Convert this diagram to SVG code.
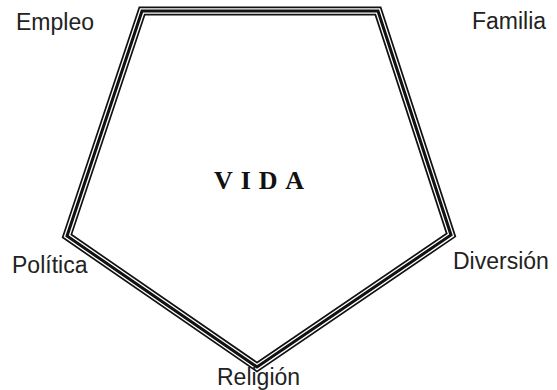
<svg xmlns="http://www.w3.org/2000/svg" width="557" height="390" viewBox="0 0 557 390">
<style>
.lbl{font-family:"Liberation Sans",Arial,sans-serif;font-size:23px;fill:#222}
.title{font-family:"Liberation Serif","Times New Roman",serif;font-size:26px;font-weight:bold;letter-spacing:7.9px;fill:#111}
.edge{fill:none;stroke-linejoin:miter;stroke-miterlimit:10}
</style>
<rect width="557" height="390" fill="#fff"/>
<g id="connectors">
<polygon class="edge" points="142,11 378,11 451,235 257,367 67,236" stroke="#111" stroke-width="9"/>
<polygon class="edge" points="142,11 378,11 451,235 257,367 67,236" stroke="#fff" stroke-width="5.6"/>
<polygon class="edge" points="142,11 378,11 451,235 257,367 67,236" stroke="#111" stroke-width="3"/>
</g>
<g id="vida"><text class="title" x="214" y="189">VIDA</text></g>
<g id="empleo"><text class="lbl" x="16" y="30">Empleo</text></g>
<g id="familia"><text class="lbl" x="472" y="29">Familia</text></g>
<g id="politica"><text class="lbl" x="12" y="273">Política</text></g>
<g id="diversion"><text class="lbl" x="453" y="269">Diversión</text></g>
<g id="religion"><text class="lbl" x="217" y="385">Religión</text></g>
</svg>
